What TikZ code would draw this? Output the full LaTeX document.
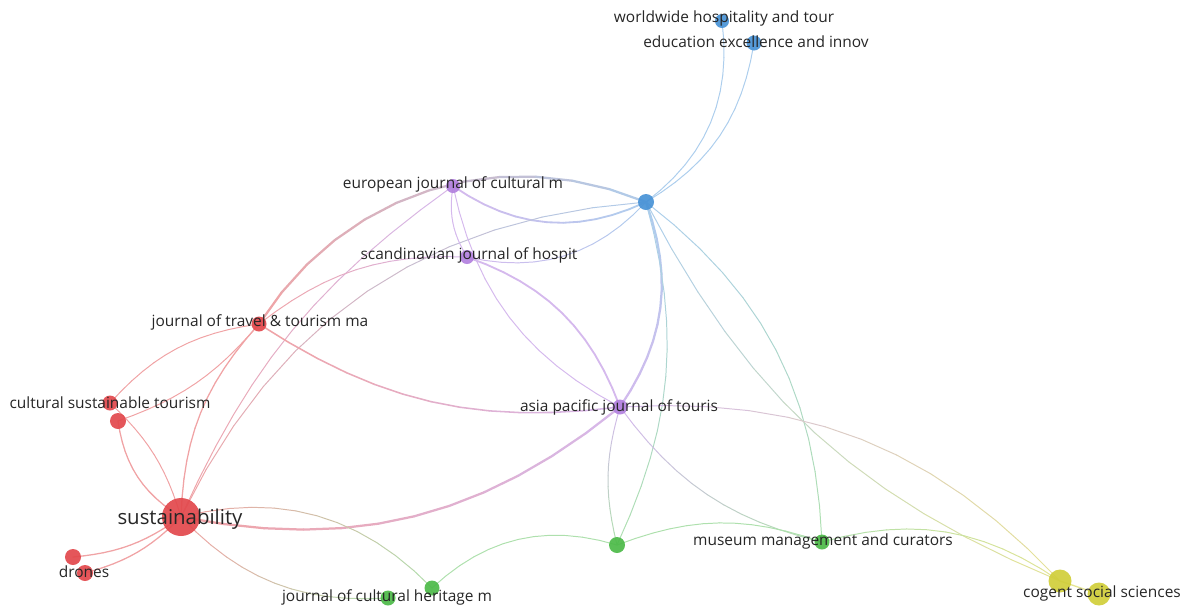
\documentclass[tikz,border=0pt]{standalone}
\usepackage{fontspec}
\setmainfont{Open Sans}
\usetikzlibrary{positioning}

\definecolor{cRed}{RGB}{226,72,76}
\definecolor{cBlue}{RGB}{72,146,214}
\definecolor{cPurple}{RGB}{178,128,222}
\definecolor{cGreen}{RGB}{76,186,72}
\definecolor{cYellow}{RGB}{208,206,58}
\colorlet{eRed}{cRed!50!white}
\colorlet{eBlue}{cBlue!45!white}
\colorlet{ePurple}{cPurple!55!white}
\colorlet{eGreen}{cGreen!45!white}
\colorlet{eYellow}{cYellow!55!white}

\pgfdeclarelayer{edges}
\pgfsetlayers{edges,main}

% curved link, colour running from one end to the other
\newcommand{\link}[6]{%
  \path (#1.center) to[#3]
    coordinate[pos=0] (s0) coordinate[pos=0.0833] (s1) coordinate[pos=0.1667] (s2)
    coordinate[pos=0.25] (s3) coordinate[pos=0.3333] (s4) coordinate[pos=0.4167] (s5)
    coordinate[pos=0.5] (s6) coordinate[pos=0.5833] (s7) coordinate[pos=0.6667] (s8)
    coordinate[pos=0.75] (s9) coordinate[pos=0.8333] (s10) coordinate[pos=0.9167] (s11)
    coordinate[pos=1] (s12) (#2.center);
  \foreach \k in {0,...,11} {
    \pgfmathtruncatemacro{\kk}{\k+1}
    \pgfmathtruncatemacro{\mix}{96-8*\k}
    \draw[line width=#6pt, line cap=round, #4!\mix!#5] (s\k) -- (s\kk);
  }%
}

\begin{document}
\begin{tikzpicture}[x=0.025cm, y=-0.025cm,
    dot/.style={circle, inner sep=0pt, draw=none, fill opacity=0.92, minimum size=#1*0.05cm},
    lbl/.style={text=black!85, inner sep=0pt, font=\fontsize{11}{13}\selectfont}]
    \useasboundingbox (0,0) rectangle (1195,606);

    % blue cluster
    \node[dot=7, fill=cBlue] (wwh) at (722,21) {};
    \node[dot=7.5, fill=cBlue] (eei) at (754,43) {};
    \node[dot=8, fill=cBlue] (hub) at (646,202) {};

    % purple cluster
    \node[dot=7, fill=cPurple] (ejc) at (453,186) {};
    \node[dot=7, fill=cPurple] (sjh) at (467,257) {};
    \node[dot=7.5, fill=cPurple] (apj) at (620,407) {};

    % red cluster
    \node[dot=7.5, fill=cRed] (jtt) at (259,324) {};
    \node[dot=7.5, fill=cRed] (cst) at (110,403) {};
    \node[dot=8, fill=cRed] (cst2) at (118,421) {};
    \node[dot=19, fill=cRed] (sus) at (181,517) {};
    \node[dot=8, fill=cRed] (dr1) at (73,557) {};
    \node[dot=8, fill=cRed] (dr2) at (85,573) {};

    % green cluster
    \node[dot=7.5, fill=cGreen] (jch) at (388,598) {};
    \node[dot=7.5, fill=cGreen] (jch2) at (432,588) {};
    \node[dot=8, fill=cGreen] (ghub) at (617,545) {};
    \node[dot=7.5, fill=cGreen] (mmc) at (822,542) {};

    % yellow cluster
    \node[dot=11.5, fill=cYellow] (cog) at (1060,581) {};
    \node[dot=11.5, fill=cYellow] (cog2) at (1099,594) {};

    % links
    \begin{pgfonlayer}{edges}
    \link{hub}{wwh}{bend right=30}{eBlue}{eBlue}{0.7}
    \link{hub}{eei}{bend right=25}{eBlue}{eBlue}{0.7}
    \link{jtt}{hub}{bend left=40}{eRed}{eBlue}{1.6}
    \link{ejc}{hub}{bend right=30}{ePurple}{eBlue}{1.3}
    \link{sjh}{hub}{bend right=30}{ePurple}{eBlue}{0.7}
    \link{sus}{hub}{bend left=30}{eRed}{eBlue}{0.7}
    \link{hub}{apj}{bend left=27}{eBlue}{ePurple}{1.6}
    \link{hub}{ghub}{bend left=20}{eBlue}{eGreen}{0.7}
    \link{hub}{mmc}{bend left=25}{eBlue}{eGreen}{0.7}
    \link{hub}{cog}{bend right=20}{eBlue}{eYellow}{0.7}
    \link{sus}{jtt}{bend left=20}{eRed}{eRed}{0.9}
    \link{sus}{ejc}{bend left=15}{eRed}{ePurple}{0.7}
    \link{sus}{cst2}{bend left=25}{eRed}{eRed}{0.9}
    \link{sus}{cst}{bend right=15}{eRed}{eRed}{0.7}
    \link{sus}{dr1}{bend left=15}{eRed}{eRed}{0.9}
    \link{sus}{dr2}{bend left=15}{eRed}{eRed}{0.9}
    \link{sus}{apj}{bend right=25}{eRed}{ePurple}{1.6}
    \link{sus}{jch2}{bend left=30}{eRed}{eGreen}{0.7}
    \link{sus}{jch}{bend right=25}{eRed}{eGreen}{0.7}
    \link{jtt}{cst}{bend right=20}{eRed}{eRed}{0.7}
    \link{cst2}{jtt}{bend right=15}{eRed}{eRed}{0.7}
    \link{jtt}{apj}{bend right=20}{eRed}{ePurple}{1.1}
    \link{jtt}{sjh}{bend left=20}{eRed}{ePurple}{0.7}
    \link{ejc}{sjh}{bend right=20}{ePurple}{ePurple}{0.7}
    \link{ejc}{apj}{bend right=25}{ePurple}{ePurple}{0.7}
    \link{sjh}{apj}{bend left=25}{ePurple}{ePurple}{1.3}
    \link{apj}{ghub}{bend right=15}{ePurple}{eGreen}{0.7}
    \link{apj}{mmc}{bend right=20}{ePurple}{eGreen}{0.7}
    \link{apj}{cog}{bend left=25}{ePurple}{eYellow}{0.7}
    \link{jch2}{ghub}{bend left=30}{eGreen}{eGreen}{0.7}
    \link{ghub}{mmc}{bend left=20}{eGreen}{eGreen}{0.7}
    \link{mmc}{cog}{bend left=25}{eGreen}{eYellow}{0.7}
    \link{cog}{cog2}{}{eYellow}{eYellow}{0.9}
    \end{pgfonlayer}

    % labels
    \node[lbl] (wwh-t) at (724,18) {worldwide hospitality and tour};
    \node[lbl] (eei-t) at (756,42) {education excellence and innov};
    \node[lbl] (ejc-t) at (453,184) {european journal of cultural m};
    \node[lbl] (sjh-t) at (469,255) {scandinavian journal of hospit};
    \node[lbl] (jtt-t) at (260,322) {journal of travel \& tourism ma};
    \node[lbl] (cst-t) at (110,403) {cultural sustainable tourism};
    \node[lbl, font=\fontsize{14.5}{17}\selectfont] (sus-t) at (180,519) {sustainability};
    \node[lbl] (dr-t) at (84,572) {drones};
    \node[lbl] (apj-t) at (619,407) {asia pacific journal of touris};
    \node[lbl] (jch-t) at (387,597) {journal of cultural heritage m};
    \node[lbl] (mmc-t) at (823,541) {museum management and curators};
    \node[lbl] (cog-t) at (1102,593) {cogent social sciences};
\end{tikzpicture}
\end{document}
